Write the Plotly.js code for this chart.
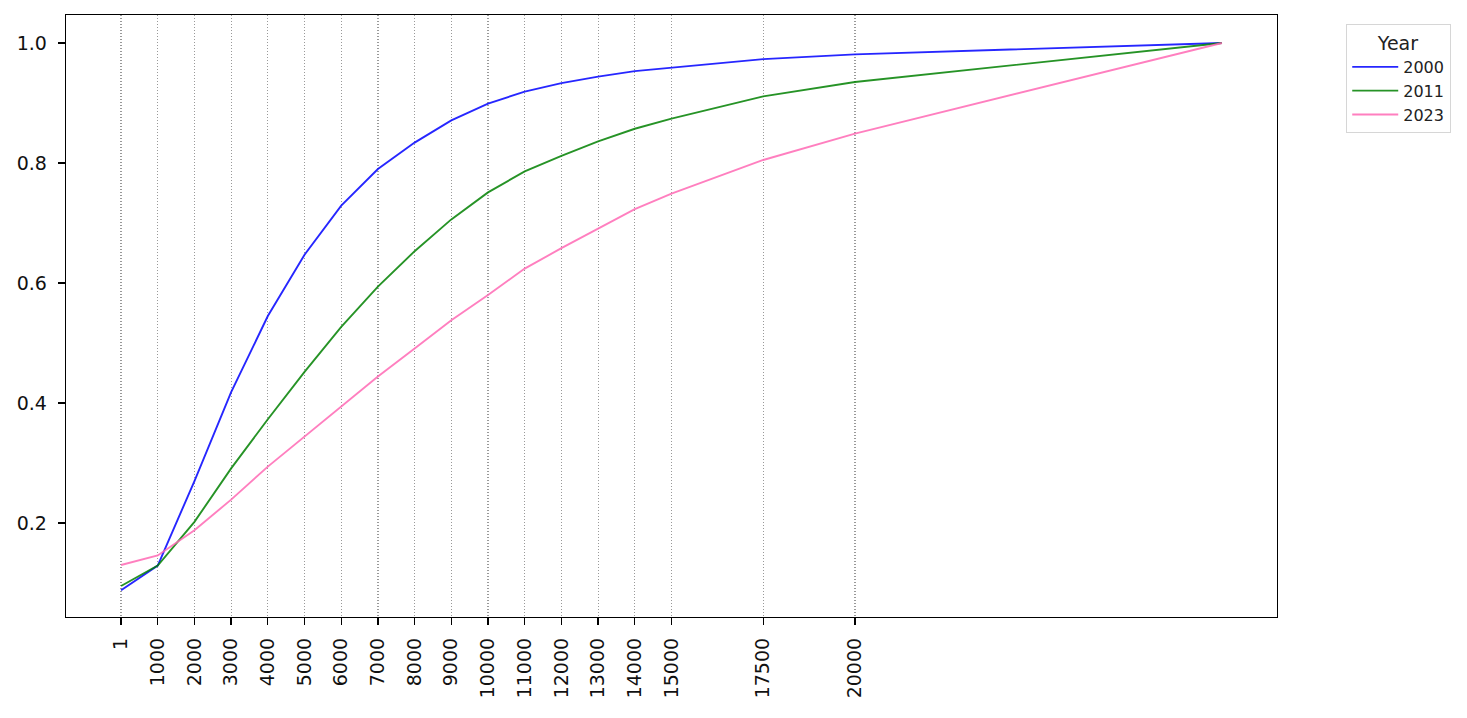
<!DOCTYPE html>
<html>
<head>
<meta charset="utf-8">
<script src="https://cdn.plot.ly/plotly-3.0.1.min.js"></script>
<style>html,body{margin:0;padding:0;background:#fff;}#chart{width:1467px;height:718px;}</style>
</head>
<body>
<div id="chart"></div>
<script>
const xValues = [1, 1000, 2000, 3000, 4000, 5000, 6000, 7000, 8000, 9000, 10000, 11000, 12000, 13000, 14000, 15000, 17500, 20000, 30000];
const tickValues = [1, 1000, 2000, 3000, 4000, 5000, 6000, 7000, 8000, 9000, 10000, 11000, 12000, 13000, 14000, 15000, 17500, 20000];
const tickLabels = tickValues.map(String);
const years = ["2000", "2011", "2023"];
const y2000 = [0.088, 0.129, 0.27, 0.418, 0.545, 0.647, 0.729, 0.79, 0.834, 0.871, 0.899, 0.919, 0.933, 0.944, 0.953, 0.959, 0.973, 0.981, 1.0];
const y2011 = [0.095, 0.129, 0.202, 0.291, 0.373, 0.452, 0.527, 0.594, 0.653, 0.706, 0.751, 0.786, 0.812, 0.836, 0.857, 0.874, 0.911, 0.935, 1.0];
const y2023 = [0.13, 0.146, 0.188, 0.239, 0.294, 0.344, 0.395, 0.444, 0.491, 0.538, 0.58, 0.624, 0.658, 0.691, 0.723, 0.749, 0.805, 0.849, 1.0];
const colors = ["rgba(0,0,255,0.85)", "rgba(0,128,0,0.85)", "rgba(255,105,180,0.85)"];
const series = [y2000, y2011, y2023];

const traces = series.map((ys, i) => ({
  x: xValues, y: ys, type: "scatter", mode: "lines", name: years[i],
  line: {color: colors[i], width: 1.9}
}));

const layout = {
  width: 1467, height: 718,
  margin: {l: 66, r: 190, t: 15, b: 101},
  paper_bgcolor: "#fff", plot_bgcolor: "#fff",
  font: {family: "DejaVu Sans, sans-serif", size: 19, color: "#000"},
  showlegend: true,
  legend: {
    x: 1.057, y: 0.985, xanchor: "left", yanchor: "top",
    bordercolor: "#d6d6d6", borderwidth: 1.2, bgcolor: "#fff",
    font: {size: 16, color: "#222"}, itemwidth: 46,
    title: {text: "Year", font: {size: 19, color: "#222"}, side: "top center"}
  },
  xaxis: {
    range: [-1500, 31500],
    tickmode: "array", tickvals: tickValues, ticktext: tickLabels,
    tickangle: -90, ticks: "outside", ticklen: 7, tickwidth: 1.3, tickcolor: "#000",
    ticklabelstandoff: 5,
    showgrid: true, gridcolor: "#999999", griddash: "1px,2px", gridwidth: 1.2,
    showline: true, linecolor: "#000", linewidth: 1.3, mirror: true,
    zeroline: false, tickfont: {size: 19, color: "#111"}
  },
  yaxis: {
    range: [0.0434, 1.0466],
    tickmode: "array", tickvals: [0.2, 0.4, 0.6, 0.8, 1.0], ticktext: ["0.2", "0.4", "0.6", "0.8", "1.0"],
    ticks: "outside", ticklen: 7, tickwidth: 1.3, tickcolor: "#000",
    ticklabelstandoff: 7,
    showgrid: false, showline: true, linecolor: "#000", linewidth: 1.3, mirror: true,
    zeroline: false, tickfont: {size: 19, color: "#111"}
  }
};

Plotly.newPlot("chart", traces, layout, {displayModeBar: false, staticPlot: true});
</script>
</body>
</html>
